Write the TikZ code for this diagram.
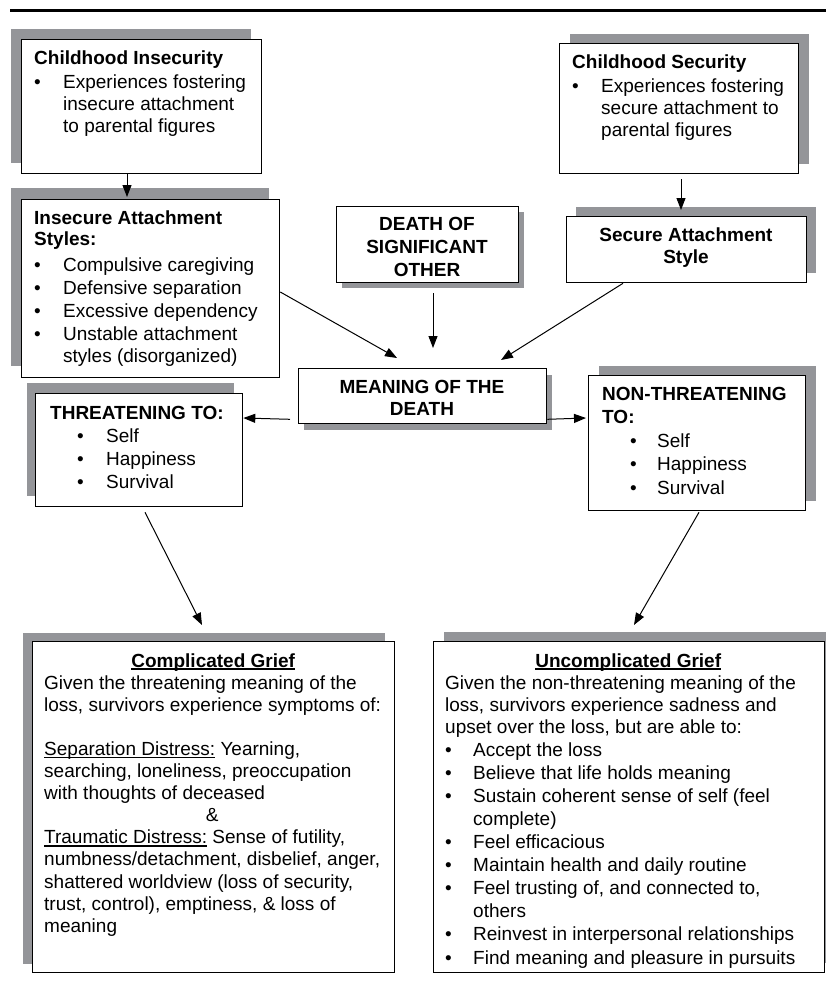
\documentclass[tikz,border=0pt]{standalone}
\usepackage{fontspec}
\setmainfont{Liberation Sans}
\usetikzlibrary{arrows.meta,shadows,calc}
\definecolor{shadowc}{RGB}{148,149,153}
\newcommand\Ln[1]{\hbox{#1}}
\newcommand\Bl[3]{\hbox{\hskip#1\makebox[#2][l]{\textbullet}#3}}
\newcommand\Ct[2]{\hbox to #1{\hfil #2\hfil}}
\newcommand\Ul[1]{\setbox0\hbox{#1}\rlap{\rule[-2.8pt]{\wd0}{1.5pt}}\box0\relax}
\newcommand\Tb[2]{\vtop{\baselineskip=#1\lineskiplimit=-100pt #2}}
\tikzset{
  box/.style={draw=black, line width=1.3pt, fill=white, inner sep=0pt, rectangle, anchor=north west},
  shd/.style 2 args={general shadow={fill=shadowc, draw=none, shadow xshift=#1, shadow yshift=#2}},
  txt/.style={inner sep=0pt, font=\fontsize{19}{22}\selectfont},
  arr/.style={line width=1pt, -{Triangle[length=12pt,width=9pt]}}
}
\begin{document}
\begin{tikzpicture}[x=1pt,y=-1pt]
\useasboundingbox (0,0) rectangle (826,982);
\draw[line width=3pt] (10,11) -- (826,11);

% boxes
\node[box, shd={-11pt}{11pt}, minimum width=240pt, minimum height=134pt] (b1) at (21,39) {};
\node[box, shd={10pt}{10pt}, minimum width=239pt, minimum height=130pt] (b2) at (559,43) {};
\node[box, shd={-11pt}{12pt}, minimum width=258pt, minimum height=178pt] (b3) at (21,199) {};
\node[box, shd={5pt}{-5pt}, minimum width=182pt, minimum height=76pt] (b4) at (336,206) {};
\node[box, shd={9pt}{10pt}, minimum width=240pt, minimum height=66pt] (b5) at (566,216) {};
\node[box, shd={5.5pt}{-6pt}, minimum width=248pt, minimum height=55pt] (b6) at (298,368) {};
\node[box, shd={-9pt}{11pt}, minimum width=207pt, minimum height=113pt] (b7) at (35,393) {};
\node[box, shd={10pt}{10pt}, minimum width=217pt, minimum height=135pt] (b8) at (588,375) {};
\node[box, shd={-10pt}{9pt}, minimum width=362pt, minimum height=331pt] (b9) at (32,641) {};
\node[box, shd={10pt}{10pt}, minimum width=391pt, minimum height=331pt] (b10) at (433,641) {};

% texts
\node[txt, anchor=base west] (t1) at (34,64) {\Tb{22pt}{%
  \Ln{\bfseries Childhood Insecurity}\vskip2.5pt
  \Bl{0pt}{29pt}{Experiences fostering}
  \Ln{\hskip29pt insecure attachment}
  \Ln{\hskip29pt to parental figures}}};
\node[txt, anchor=base west] (t2) at (572,68) {\Tb{22pt}{%
  \Ln{\bfseries Childhood Security}\vskip2.5pt
  \Bl{0pt}{29pt}{Experiences fostering}
  \Ln{\hskip29pt secure attachment to}
  \Ln{\hskip29pt parental figures}}};
\node[txt, anchor=base west] (t3) at (34,224) {\Tb{21.7pt}{%
  \Ln{\bfseries Insecure Attachment}
  \Ln{\bfseries Styles:}\vskip3.3pt\baselineskip=22.75pt
  \Bl{0pt}{29pt}{Compulsive caregiving}
  \Bl{0pt}{29pt}{Defensive separation}
  \Bl{0pt}{29pt}{Excessive dependency}
  \Bl{0pt}{29pt}{Unstable attachment}
  \Ln{\hskip29pt styles (disorganized)}}};
\node[txt, anchor=base] (t4) at (427,230) {\Tb{23pt}{%
  \Ct{180pt}{\bfseries DEATH OF}
  \Ct{180pt}{\bfseries SIGNIFICANT}
  \Ct{180pt}{\bfseries OTHER}}};
\node[txt, anchor=base] (t5) at (686,241) {\Tb{22pt}{%
  \Ct{236pt}{\bfseries Secure Attachment}
  \Ct{236pt}{\bfseries Style}}};
\node[txt, anchor=base] (t6) at (422,393) {\Tb{22pt}{%
  \Ct{240pt}{\bfseries MEANING OF THE}
  \Ct{240pt}{\bfseries DEATH}}};
\node[txt, anchor=base west] (t7) at (50,419) {\Tb{23pt}{%
  \Ln{\bfseries THREATENING TO:}
  \Bl{27pt}{29pt}{Self}
  \Bl{27pt}{29pt}{Happiness}
  \Bl{27pt}{29pt}{Survival}}};
\node[txt, anchor=base west] (t8) at (602,400) {\Tb{23.5pt}{%
  \Ln{\bfseries NON-THREATENING}
  \Ln{\bfseries TO:}
  \Bl{28pt}{27pt}{Self}
  \Bl{28pt}{27pt}{Happiness}
  \Bl{28pt}{27pt}{Survival}}};
\node[txt, anchor=base west] (t9) at (44,667) {\Tb{22.1pt}{%
  \Ct{338pt}{\bfseries\Ul{Complicated Grief}}
  \Ln{Given the threatening meaning of the}
  \Ln{loss, survivors experience symptoms of:}
  \Ln{}
  \Ln{\Ul{Separation Distress:} Yearning,}
  \Ln{searching, loneliness, preoccupation}
  \Ln{with thoughts of deceased}
  \Ct{336pt}{\&}
  \Ln{\Ul{Traumatic Distress:} Sense of futility,}
  \Ln{numbness/detachment, disbelief, anger,}
  \Ln{shattered worldview (loss of security,}
  \Ln{trust, control), emptiness, \& loss of}
  \Ln{meaning}}};
\node[txt, anchor=base west] (t10) at (445,667) {\Tb{22pt}{%
  \Ct{366pt}{\bfseries\Ul{Uncomplicated Grief}}
  \Ln{Given the non-threatening meaning of the}
  \Ln{loss, survivors experience sadness and}
  \Ln{upset over the loss, but are able to:}
  \baselineskip=23.1pt
  \Bl{0pt}{28pt}{Accept the loss}
  \Bl{0pt}{28pt}{Believe that life holds meaning}
  \Bl{0pt}{28pt}{Sustain coherent sense of self (feel}
  \Ln{\hskip28pt complete)}
  \Bl{0pt}{28pt}{Feel efficacious}
  \Bl{0pt}{28pt}{Maintain health and daily routine}
  \Bl{0pt}{28pt}{Feel trusting of, and connected to,}
  \Ln{\hskip28pt others}
  \Bl{0pt}{28pt}{Reinvest in interpersonal relationships}
  \Bl{0pt}{28pt}{Find meaning and pleasure in pursuits}}};

% connectors
\draw[arr] ($(b1.south west)+(106,0)$) -- ($(b3.north west)+(106,-2)$);
\draw[arr] ($(b2.south west)+(122,5)$) -- ($(b5.north west)+(115,-6)$);
\draw[arr] ($(b3.north east)+(0,93)$) -- ($(b6.north west)+(99,-10)$);
\draw[arr] ($(b4.south west)+(97,10)$) -- ($(b6.north west)+(135,-20)$);
\draw[arr] ($(b5.south west)+(57,0)$) -- ($(b6.north west)+(203,-8)$);
\draw[arr] ($(b6.south west)+(-8,-5)$) -- ($(b7.north east)+(0,25)$);
\draw[arr] ($(b6.south east)+(0,-5)$) -- ($(b8.north west)+(-2,43)$);
\draw[arr] ($(b7.south west)+(110,5)$) -- ($(b9.north west)+(170,-16)$);
\draw[arr] ($(b8.south west)+(111,1)$) -- ($(b10.north west)+(201,-16)$);
\end{tikzpicture}
\end{document}
